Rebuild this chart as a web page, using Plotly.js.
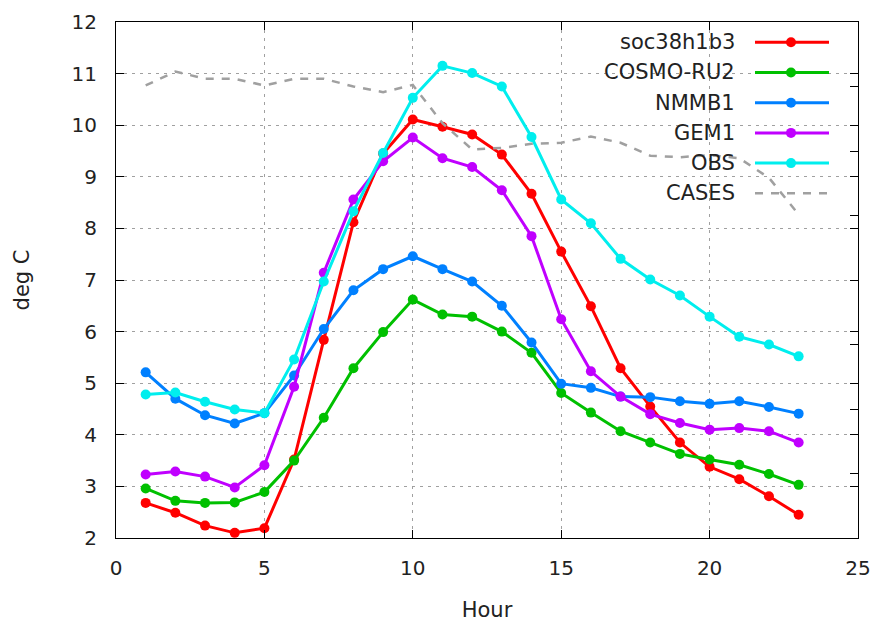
<!DOCTYPE html>
<html>
<head>
<meta charset="utf-8">
<script src="https://cdn.plot.ly/plotly-3.0.1.min.js"></script>
<style>html,body{margin:0;padding:0;background:#fff;}#chart{width:875px;height:622px;}</style>
</head>
<body>
<div id="chart"></div>
<script>
const hours = [1,2,3,4,5,6,7,8,9,10,11,12,13,14,15,16,17,18,19,20,21,22,23];
const soc38h1b3 = [2.68,2.49,2.24,2.10,2.19,3.52,5.84,8.12,9.45,10.11,9.97,9.82,9.43,8.67,7.55,6.49,5.29,4.55,3.85,3.38,3.14,2.81,2.45];
const cosmoRU2 = [2.96,2.72,2.68,2.69,2.89,3.50,4.33,5.29,5.99,6.62,6.33,6.29,6.00,5.59,4.81,4.43,4.07,3.85,3.63,3.52,3.42,3.24,3.03];
const nmmb1 = [5.21,4.70,4.38,4.22,4.42,5.15,6.05,6.80,7.21,7.46,7.21,6.97,6.50,5.79,4.99,4.91,4.74,4.73,4.65,4.60,4.65,4.54,4.41];
const gem1 = [3.23,3.29,3.19,2.98,3.41,4.93,7.14,8.56,9.30,9.76,9.36,9.19,8.74,7.85,6.24,5.23,4.74,4.40,4.23,4.10,4.13,4.07,3.85];
const obs = [4.78,4.82,4.64,4.49,4.42,5.46,6.97,8.33,9.46,10.53,11.15,11.01,10.75,9.77,8.56,8.10,7.41,7.01,6.70,6.29,5.90,5.75,5.52];
const cases = [10.77,11.04,10.90,10.90,10.77,10.90,10.90,10.75,10.64,10.78,10.04,9.53,9.56,9.64,9.66,9.78,9.66,9.41,9.38,9.42,9.36,8.98,8.27];

const seriesNames = ["soc38h1b3","COSMO-RU2","NMMB1","GEM1","OBS","CASES"];
const seriesData = [soc38h1b3, cosmoRU2, nmmb1, gem1, obs, cases];
const seriesColors = ["#ff0000","#00c000","#0080ff","#c000ff","#00eeee","#a0a0a0"];

const xTicks = [0,5,10,15,20,25];
const yTicks = [2,3,4,5,6,7,8,9,10,11,12];

const FONT = "DejaVu Sans";
const CASES_DASH = "8px,8px";
const traces = seriesNames.map((name, i) => {
  const isCases = name === "CASES";
  return {
    x: hours, y: seriesData[i], name: name, type: "scatter",
    mode: isCases ? "lines" : "lines+markers",
    line: {color: seriesColors[i], width: isCases ? 2.5 : 3, dash: isCases ? CASES_DASH : "solid"},
    marker: {symbol: "circle", size: 10, color: seriesColors[i]},
    showlegend: false, cliponaxis: true
  };
});
// invisible trace on y2 to keep the secondary right axis ticks
traces.push({x: [0], y: [0], yaxis: "y2", mode: "markers", marker: {opacity: 0}, showlegend: false, hoverinfo: "skip"});

// custom gnuplot-style legend (text right-aligned, sample line on the right)
const plotL = 116, plotR = 858, plotT = 22, plotB = 538;
const W = 875, H = 622;
const px2paperX = p => (p - plotL) / (plotR - plotL);
const px2paperY = p => (plotB - p) / (plotB - plotT);
const annotations = [];
const shapes = [];
seriesNames.forEach((name, i) => {
  const yy = px2paperY(42.3 + i * 30.2);
  annotations.push({xref: "paper", yref: "paper", x: px2paperX(737), y: yy, xanchor: "right", yanchor: "middle",
    text: name, showarrow: false, font: {family: FONT, size: 21, color: "#222"}});
  const isCases = name === "CASES";
  shapes.push({type: "line", xref: "paper", yref: "paper", x0: px2paperX(755), x1: px2paperX(829), y0: yy, y1: yy,
    line: {color: seriesColors[i], width: isCases ? 2.5 : 3, dash: isCases ? CASES_DASH : "solid"}});
  if (!isCases) {
    shapes.push({type: "circle", xref: "paper", yref: "paper", xsizemode: "pixel", ysizemode: "pixel",
      xanchor: px2paperX(791), yanchor: yy, x0: -5, x1: 5, y0: -5, y1: 5,
      fillcolor: seriesColors[i], line: {width: 0}});
  }
});

const layout = {
  width: W, height: H,
  margin: {l: plotL, r: W - plotR, t: plotT, b: H - plotB, pad: 0},
  paper_bgcolor: "#fff", plot_bgcolor: "#fff",
  font: {family: FONT, size: 20, color: "#222"},
  xaxis: {
    range: [0, 25], tickvals: xTicks, ticktext: xTicks.map(String),
    showline: true, linecolor: "#000", linewidth: 1, mirror: "ticks",
    ticks: "inside", ticklen: 8, tickcolor: "#000", tickwidth: 1,
    showgrid: true, gridcolor: "#a0a0a0", gridwidth: 1, griddash: "3px,5px",
    zeroline: false, ticklabelstandoff: 12, automargin: false,
    title: {text: "Hour", font: {family: FONT, size: 21, color: "#222"}, standoff: 24}
  },
  yaxis: {
    range: [2, 12], tickvals: yTicks, ticktext: yTicks.map(String),
    showline: true, linecolor: "#000", linewidth: 1, mirror: "ticks",
    ticks: "inside", ticklen: 8, tickcolor: "#000", tickwidth: 1,
    showgrid: true, gridcolor: "#a0a0a0", gridwidth: 1, griddash: "3px,5px",
    zeroline: false, ticklabelstandoff: 14, automargin: false,
    title: {text: "deg C", font: {family: FONT, size: 21, color: "#222"}, standoff: 36}
  },
  yaxis2: {
    overlaying: "y", side: "right", range: [0, 8], dtick: 1,
    ticks: "inside", ticklen: 8, tickcolor: "#000", tickwidth: 1,
    showticklabels: false, showgrid: false, zeroline: false, showline: false, automargin: false
  },
  showlegend: false,
  annotations: annotations,
  shapes: shapes
};

Plotly.newPlot("chart", traces, layout, {displayModeBar: false, staticPlot: true});
</script>
</body>
</html>
